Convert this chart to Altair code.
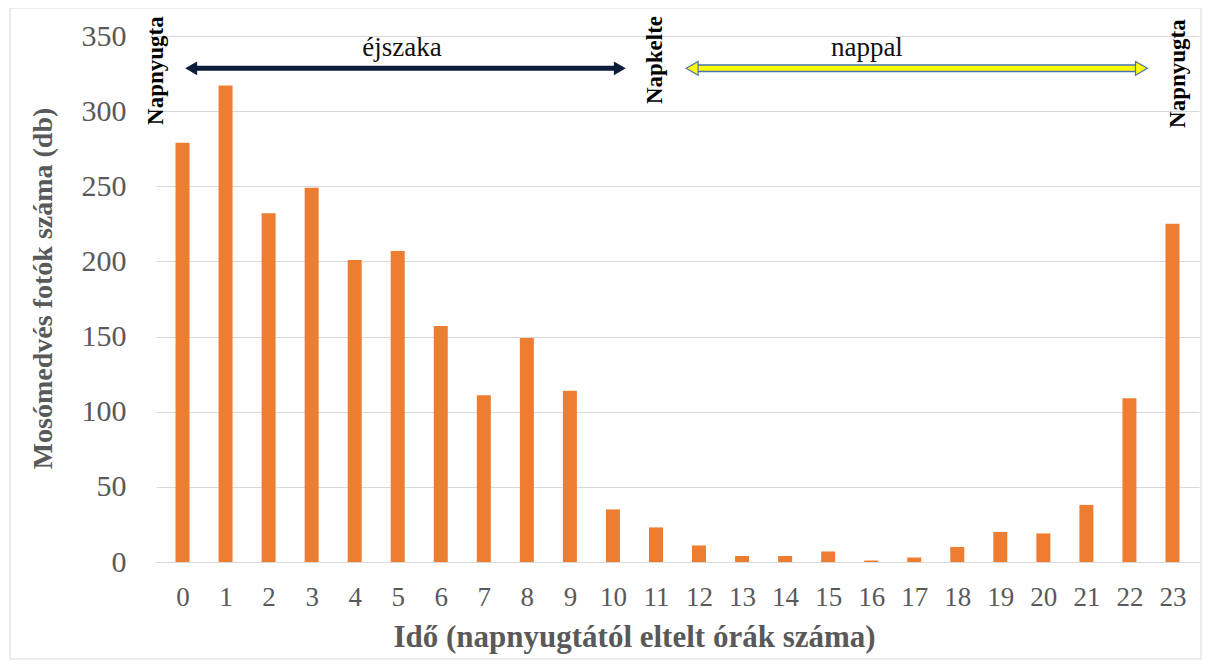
import altair as alt
import pandas as pd

# ---- data ----
hours = list(range(24))
counts = [279, 317, 232, 249, 201, 207, 157, 111, 149, 114, 35, 23,
          11, 4, 4, 7, 1, 3, 10, 20, 19, 38, 109, 225]

event_labels = ["Napnyugta", "Napkelte", "Napnyugta"]
event_hour = [-0.62, 10.98, 23.12]
event_level = [327, 334, 325]

period_labels = ["éjszaka", "nappal"]
period_start = [0.2, 11.84]
period_end = [10.16, 22.28]
period_label_hour = [5.1, 15.9]
period_label_level = [342, 342]
arrow_level = [328.5, 328.5]

FONT = "Liberation Serif"
GRAY = "#595959"

bars_df = pd.DataFrame({"hour": hours, "count": counts})
events_df = pd.DataFrame({"label": event_labels, "hour": event_hour, "level": event_level})
periods_df = pd.DataFrame({
    "label": period_labels, "start": period_start, "end": period_end,
    "lx": period_label_hour, "ly": period_label_level, "ay": arrow_level,
})
night = periods_df.iloc[[0]]
day = periods_df.iloc[[1]]

xs = alt.Scale(domain=[-0.5, 23.5], nice=False, zero=False)
ys = alt.Scale(domain=[0, 350], nice=False)

bars = alt.Chart(bars_df).mark_bar(size=14, color="#ED7D31").encode(
    x=alt.X("hour:Q", scale=xs, axis=alt.Axis(
        values=hours, title="Idő (napnyugtától eltelt órák száma)", grid=False,
        ticks=False, domain=True, domainColor="#d9d9d9", labelFont=FONT,
        labelFontSize=27, labelColor=GRAY, labelPadding=22, titleFont=FONT,
        titleFontSize=31, titleFontWeight="bold", titleColor=GRAY, titlePadding=12,
        titleX=478, titleAlign="center", format="d")),
    y=alt.Y("count:Q", scale=ys, axis=alt.Axis(
        values=[0, 50, 100, 150, 200, 250, 300, 350],
        title="Mosómedvés fotók száma (db)", grid=True, gridColor="#d9d9d9",
        ticks=False, domain=False, labelFont=FONT, labelFontSize=30,
        labelColor=GRAY, labelPadding=30, titleFont=FONT, titleFontSize=28,
        titleFontWeight="bold", titleColor=GRAY, titlePadding=24,
        titleY=252, titleAlign="center")),
)

event_text = alt.Chart(events_df).mark_text(
    angle=270, font=FONT, fontSize=23, fontWeight="bold", color="#000000",
    align="center", baseline="middle").encode(
    x=alt.X("hour:Q", scale=xs), y=alt.Y("level:Q", scale=ys), text="label:N")

period_text = alt.Chart(periods_df).mark_text(
    font=FONT, fontSize=27, color="#111111", align="center", baseline="middle").encode(
    x=alt.X("lx:Q", scale=xs), y=alt.Y("ly:Q", scale=ys), text="label:N")

# night arrow (dark navy)
night_shaft = alt.Chart(night).mark_rule(color="#0c1d3a", strokeWidth=5).encode(
    x=alt.X("start:Q", scale=xs), x2="end:Q", y=alt.Y("ay:Q", scale=ys))
night_left = alt.Chart(night).mark_point(shape="triangle-left", filled=True, size=190,
                                         color="#0c1d3a", opacity=1).encode(
    x=alt.X("start:Q", scale=xs), y=alt.Y("ay:Q", scale=ys))
night_right = alt.Chart(night).mark_point(shape="triangle-right", filled=True, size=190,
                                          color="#0c1d3a", opacity=1).encode(
    x=alt.X("end:Q", scale=xs), y=alt.Y("ay:Q", scale=ys))

# day arrow (yellow with blue outline)
day_outline = alt.Chart(day).mark_rule(color="#4a6fb5", strokeWidth=8).encode(
    x=alt.X("start:Q", scale=xs), x2="end:Q", y=alt.Y("ay:Q", scale=ys))
day_fill = alt.Chart(day).mark_rule(color="#ffff00", strokeWidth=5).encode(
    x=alt.X("start:Q", scale=xs), x2="end:Q", y=alt.Y("ay:Q", scale=ys))
day_left = alt.Chart(day).mark_point(shape="triangle-left", filled=True, size=190,
                                     fill="#ffff00", stroke="#4a6fb5", strokeWidth=1.2,
                                     opacity=1).encode(
    x=alt.X("start:Q", scale=xs), y=alt.Y("ay:Q", scale=ys))
day_right = alt.Chart(day).mark_point(shape="triangle-right", filled=True, size=190,
                                      fill="#ffff00", stroke="#4a6fb5", strokeWidth=1.2,
                                      opacity=1).encode(
    x=alt.X("end:Q", scale=xs), y=alt.Y("ay:Q", scale=ys))

# outer chart frame
frame = alt.Chart(night).mark_rect(fill=None, stroke="#d9d9d9", strokeWidth=1).encode(
    x=alt.value(-146), x2=alt.value(1045), y=alt.value(-28), y2=alt.value(623))

chart = alt.layer(
    frame, bars, night_shaft, night_left, night_right,
    day_outline, day_fill, day_left, day_right, period_text, event_text
).properties(
    width=1043, height=526,
    autosize=alt.AutoSizeParams(type="none"),
    padding={"left": 148, "top": 28, "right": 3, "bottom": 100},
).configure_view(strokeWidth=0)

chart.save("out.html", embed_options={"renderer": "svg", "actions": False})
